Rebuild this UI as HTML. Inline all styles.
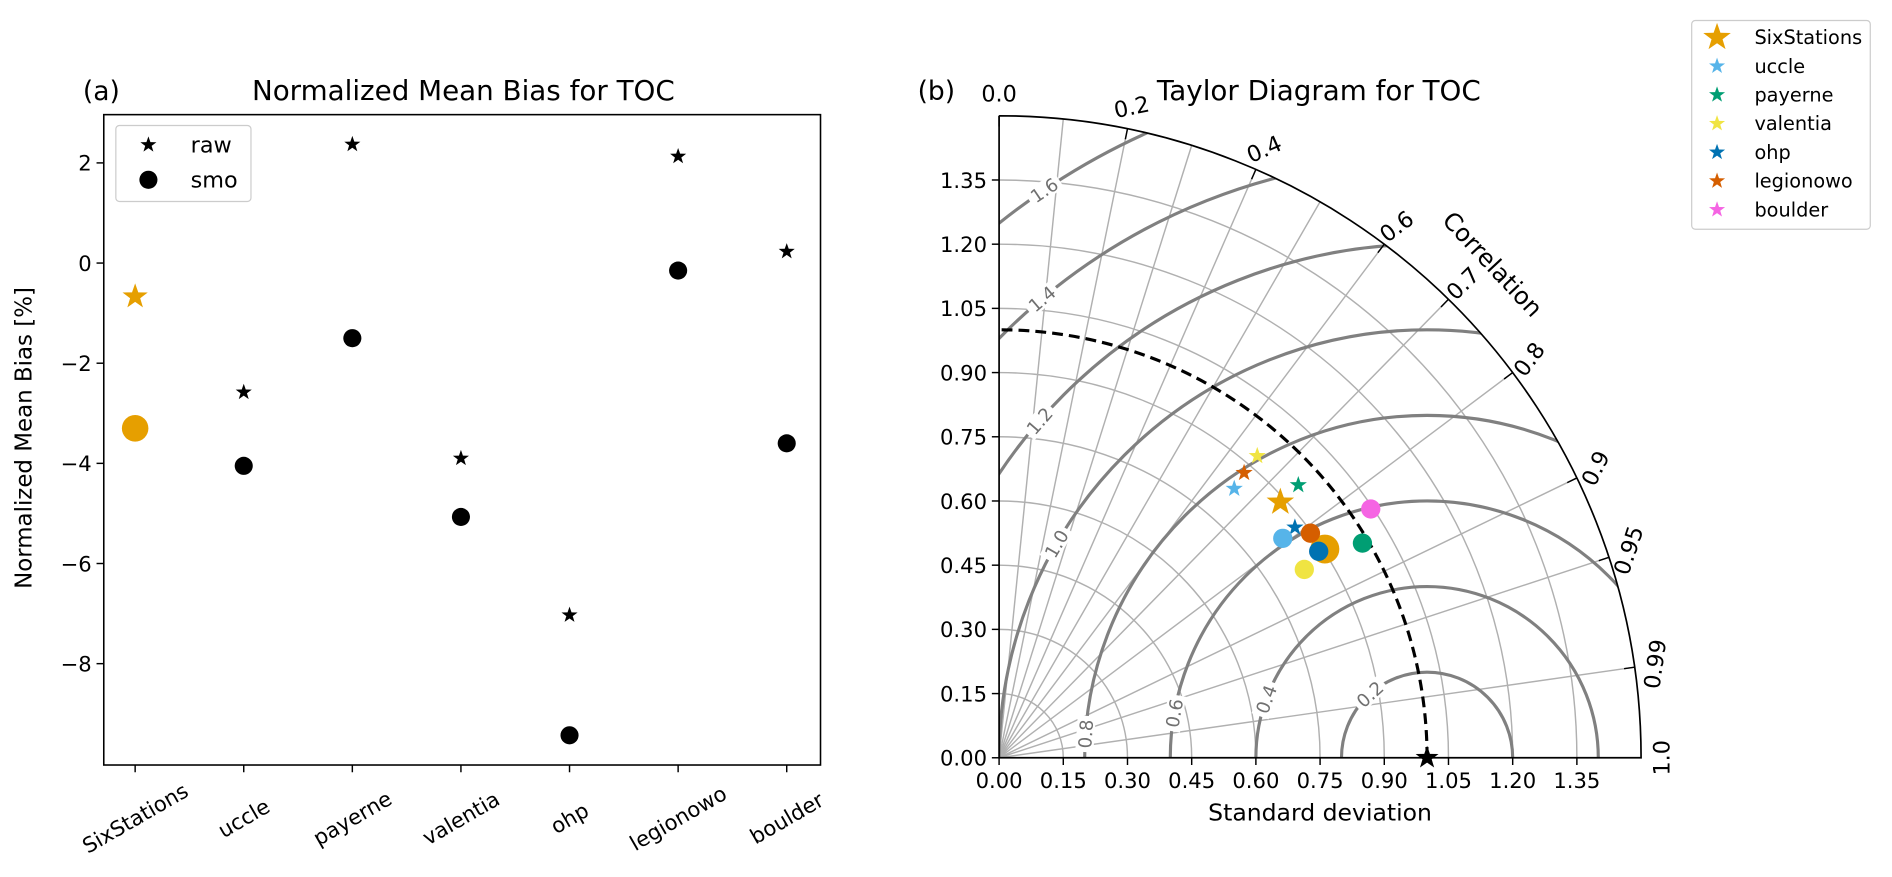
<!DOCTYPE html>
<html><head><meta charset="utf-8">
<style>
html,body{margin:0;padding:0;background:#fff;width:1892px;height:877px;overflow:hidden;}
svg{display:block;font-family:"DejaVu Sans","Liberation Sans",sans-serif;}
</style></head>
<body>
<svg id="fig" width="1892" height="877" viewBox="0 0 1568 726.8" xmlns="http://www.w3.org/2000/svg">
<rect width="1568" height="726.8" fill="#fff"/>
<g id="left"></g>
<g id="right"></g>
<g id="legendR"></g>
</svg>
<script>
const categories = ["SixStations","uccle","payerne","valentia","ohp","legionowo","boulder"];
const rawBias = [-0.67,-2.58,2.37,-3.9,-7.03,2.13,0.23];
const smoBias = [-3.3,-4.05,-1.5,-5.07,-9.43,-0.15,-3.6];
const biasTicks = [2,0,-2,-4,-6,-8];
const colors = ["#E69F00","#56B4E9","#009E73","#F0E442","#0072B2","#D55E00","#F564E3"];
const rawStd = [0.888,0.835,0.946,0.928,0.876,0.878,1.045];
const rawCorr = [0.740,0.658,0.739,0.650,0.789,0.652,0.831];
const smoStd = [0.904,0.838,0.986,0.838,0.889,0.897,1.045];
const smoCorr = [0.842,0.791,0.861,0.851,0.840,0.811,0.831];
const stdTicks = [0,0.15,0.3,0.45,0.6,0.75,0.9,1.05,1.2,1.35];
const corrTicks = [0,0.2,0.4,0.6,0.7,0.8,0.9,0.95,0.99,1.0];
const corrGrid = [0.1,0.2,0.3,0.4,0.5,0.6,0.7,0.8,0.9,0.95,0.99];
const rmsLevels = [0.2,0.4,0.6,0.8,1.0,1.2,1.4,1.6];
const rmsLabelAngles = [132,160,170,176,150,139,130,124];

const NS="http://www.w3.org/2000/svg";
function el(tag,attrs,parent,txt){const e=document.createElementNS(NS,tag);for(const k in attrs)e.setAttribute(k,attrs[k]);if(txt!==undefined)e.textContent=txt;parent.appendChild(e);return e;}
function starPath(cx,cy,r){let d="";for(let i=0;i<10;i++){const rr=i%2?r*0.4:r;const a=-Math.PI/2+i*Math.PI/5;d+=(i?"L":"M")+(cx+rr*Math.cos(a)).toFixed(2)+","+(cy+rr*Math.sin(a)).toFixed(2);}return d+"Z";}

// ---------- left chart ----------
const L=document.getElementById("left");
const ax0=86,ax1=680,ay0=95,ay1=634;
const xL=i=>112+90*i;
const yL=v=>218-41.5*v;
let t;
t=el("text",{x:84,y:83,"font-size":22,"text-anchor":"middle"},L,"(a)");

t=el("text",{x:384,y:83,"font-size":23,"text-anchor":"middle"},L,"Normalized Mean Bias for TOC");

t=el("rect",{x:ax0,y:ay0,width:ax1-ax0,height:ay1-ay0,fill:"none",stroke:"#000","stroke-width":1.3},L);

biasTicks.forEach(v=>{
  const y=yL(v);
  el("line",{x1:ax0-6,x2:ax0,y1:y,y2:y,stroke:"#000","stroke-width":1.2},L);
  const tt=el("text",{x:ax0-10,y:y+6.5,"font-size":17.5,"text-anchor":"end"},L,(v<0?"\u2212"+(-v):v));
  
});
t=el("text",{x:26,y:363,"font-size":19,"text-anchor":"middle",transform:"rotate(-90 26 363)"},L,"Normalized Mean Bias [%]");

categories.forEach((c,i)=>{
  const x=xL(i);
  el("line",{x1:x,x2:x,y1:ay1,y2:ay1+6,stroke:"#000","stroke-width":1.2},L);
  const cy0=ay1+44;
  const tt=el("text",{x:x,y:cy0,"font-size":17.5,"text-anchor":"middle","dominant-baseline":"central",transform:`rotate(-30 ${x} ${cy0})`},L,c);
  
});
categories.forEach((c,i)=>{
  const big=i===0;const col=big?colors[0]:"#000";
  const s=el("path",{d:starPath(xL(i),yL(rawBias[i]),big?11:7),fill:col},L);
  
  const cc=el("circle",{cx:xL(i),cy:yL(smoBias[i]),r:big?11:7.5,fill:col},L);
  
});
const lg=el("g",{},L);

el("rect",{x:96,y:104,width:112,height:63,rx:3,fill:"#fff",stroke:"#ccc","stroke-width":1},lg);
el("path",{d:starPath(123,120,7),fill:"#000"},lg);
el("text",{x:158,y:126.5,"font-size":18.5},lg,"raw");
el("circle",{cx:123,cy:149,r:7.5,fill:"#000"},lg);
el("text",{x:158,y:155.5,"font-size":18.5},lg,"smo");

// ---------- Taylor ----------
const R=document.getElementById("right");
const ox=828,oy=628,S=354.7,RMAX=1.5;
const px=(s,c)=>ox+s*S*c;
const py=(s,c)=>oy-s*S*Math.sqrt(Math.max(0,1-c*c));
const cx=(x)=>ox+x*S, cy=(y)=>oy-y*S;
el("defs",{},R).innerHTML=`<clipPath id="qc"><path d="M${ox},${oy} L${ox+RMAX*S},${oy} A${RMAX*S},${RMAX*S} 0 0 0 ${ox},${oy-RMAX*S} Z"/></clipPath>`;
t=el("text",{x:776,y:83,"font-size":22,"text-anchor":"middle"},R,"(b)");

t=el("text",{x:1093,y:83,"font-size":23,"text-anchor":"middle"},R,"Taylor Diagram for TOC");

const grid=el("g",{"clip-path":"url(#qc)"},R);

stdTicks.slice(1).forEach(s=>{
  el("path",{d:`M${ox+s*S},${oy} A${s*S},${s*S} 0 0 0 ${ox},${oy-s*S}`,fill:"none",stroke:"#b0b0b0","stroke-width":1.2},grid);
});
corrGrid.forEach(c=>{
  el("line",{x1:ox,y1:oy,x2:px(RMAX,c),y2:py(RMAX,c),stroke:"#b0b0b0","stroke-width":1.2},grid);
});
rmsLevels.forEach((r,i)=>{
  el("circle",{cx:cx(1),cy:oy,r:r*S,fill:"none",stroke:"#808080","stroke-width":2.6},grid);
});
rmsLevels.forEach((r,i)=>{
  const th=rmsLabelAngles[i]*Math.PI/180;
  const x=cx(1+r*Math.cos(th)),y=cy(r*Math.sin(th));
  const rot=-(rmsLabelAngles[i]-90);
  const g=el("g",{transform:`translate(${x} ${y}) rotate(${rot})`},R);
  
  el("rect",{x:-15,y:-7.5,width:30,height:15,fill:"#fff"},g);
  el("text",{x:0,y:5.5,"font-size":15,"text-anchor":"middle",fill:"#707070"},g,r.toFixed(1));
});
t=el("path",{d:`M${ox+S},${oy} A${S},${S} 0 0 0 ${ox},${oy-S}`,fill:"none",stroke:"#000","stroke-width":2.6,"stroke-dasharray":"9,5"},R);

t=el("path",{d:`M${ox},${oy-RMAX*S} L${ox},${oy} L${ox+RMAX*S},${oy} A${RMAX*S},${RMAX*S} 0 0 0 ${ox},${oy-RMAX*S}`,fill:"none",stroke:"#000","stroke-width":1.4},R);

stdTicks.forEach(s=>{
  el("line",{x1:ox-6,x2:ox,y1:oy-s*S,y2:oy-s*S,stroke:"#000","stroke-width":1.2},R);
  const a=el("text",{x:ox-10,y:oy-s*S+6.5,"font-size":17.5,"text-anchor":"end"},R,s.toFixed(2));
  
  el("line",{x1:ox+s*S,x2:ox+s*S,y1:oy,y2:oy+6,stroke:"#000","stroke-width":1.2},R);
  const b=el("text",{x:ox+s*S,y:oy+25,"font-size":17.5,"text-anchor":"middle"},R,s.toFixed(2));
  
});
t=el("text",{x:1094,y:680,"font-size":19.5,"text-anchor":"middle"},R,"Standard deviation");

corrTicks.forEach(c=>{
  const th=Math.acos(c);
  el("line",{x1:px(RMAX,c),y1:py(RMAX,c),x2:px(RMAX-0.025,c),y2:py(RMAX-0.025,c),stroke:"#000","stroke-width":1.2},R);
  const x=px(1.55,c),y=py(1.55,c);
  const rot=-(90-th*180/Math.PI);
  const a=el("text",{x:x,y:y,"font-size":18.5,"text-anchor":"middle","dominant-baseline":"central",transform:`rotate(${rot} ${x} ${y})`},R,String(c===1?"1.0":c===0?"0.0":c));
  
});
{const th=45*Math.PI/180;const x=ox+1.63*S*Math.cos(th),y=oy-1.63*S*Math.sin(th);
t=el("text",{x:x,y:y,"font-size":20,"text-anchor":"middle","dominant-baseline":"central",transform:`rotate(47 ${x} ${y})`},R,"Correlation");
}
t=el("path",{d:starPath(px(1,1),py(1,1),10),fill:"#000"},R);

categories.forEach((c,i)=>{
  const s=el("path",{d:starPath(px(rawStd[i],rawCorr[i]),py(rawStd[i],rawCorr[i]),i===0?12:7.5),fill:colors[i]},R);
  
});
categories.forEach((c,i)=>{
  const s=el("circle",{cx:px(smoStd[i],smoCorr[i]),cy:py(smoStd[i],smoCorr[i]),r:i===0?12:8,fill:colors[i]},R);
  
});
const LG=document.getElementById("legendR");
el("rect",{x:1402,y:17,width:148,height:173,rx:3,fill:"#fff",stroke:"#ccc","stroke-width":1},LG);
categories.forEach((c,i)=>{
  const y=31+i*23.8;
  const g=el("g",{},LG);
  
  el("path",{d:starPath(1423,y,i===0?12:7),fill:colors[i]},g);
  el("text",{x:1454,y:y+5.5,"font-size":16},g,c);
});
</script>
</body></html>
